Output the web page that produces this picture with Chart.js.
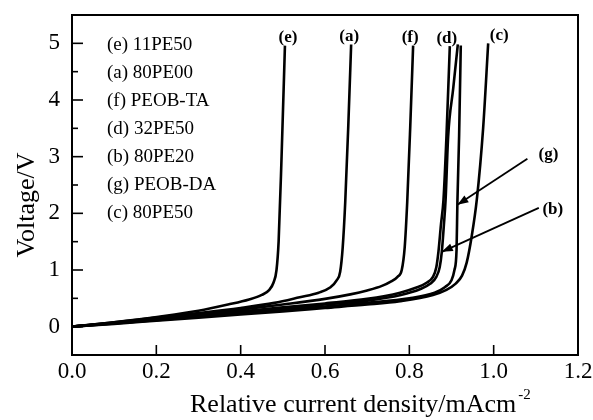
<!DOCTYPE html>
<html>
<head>
<meta charset="utf-8">
<script src="https://cdn.jsdelivr.net/npm/chart.js@4.4.0/dist/chart.umd.min.js"></script>
<style>
html, body { margin: 0; padding: 0; background: #fff; }
#wrap { width: 593px; height: 420px; }
</style>
</head>
<body>
<div id="wrap"><canvas id="voltChart"></canvas></div>
<script>
// series order as listed in the legend box
const seriesTags = ["e", "a", "f", "d", "b", "g", "c"];
const seriesNames = ["11PE50", "80PE00", "PEOB-TA", "32PE50", "80PE20", "PEOB-DA", "80PE50"];

// current density (x) / voltage (y)
const currentE = [0, 0.09, 0.21, 0.30, 0.37, 0.42, 0.45, 0.468, 0.478, 0.485, 0.49, 0.497, 0.505];
const voltageE = [0, 0.07, 0.18, 0.28, 0.39, 0.48, 0.56, 0.65, 0.78, 1.0, 1.5, 3.0, 4.96];
const currentA = [0, 0.1, 0.2, 0.3, 0.4, 0.48, 0.54, 0.585, 0.612, 0.628, 0.636, 0.642, 0.648, 0.655, 0.662];
const voltageA = [0, 0.075, 0.16, 0.24, 0.33, 0.42, 0.52, 0.6, 0.69, 0.82, 0.97, 1.4, 2.2, 3.5, 4.98];
const currentF = [0, 0.1, 0.2, 0.3, 0.4, 0.5, 0.6, 0.66, 0.70, 0.735, 0.757, 0.772, 0.782, 0.789, 0.795, 0.802, 0.809];
const voltageF = [0, 0.07, 0.14, 0.22, 0.3, 0.39, 0.49, 0.57, 0.64, 0.72, 0.8, 0.88, 1.0, 1.4, 2.2, 3.5, 4.96];
const currentD = [0, 0.1, 0.2, 0.3, 0.4, 0.5, 0.6, 0.7, 0.778, 0.817, 0.842, 0.856, 0.864, 0.869, 0.875, 0.881, 0.888, 0.896];
const voltageD = [0, 0.065, 0.13, 0.2, 0.27, 0.34, 0.41, 0.49, 0.6, 0.69, 0.78, 0.88, 1.05, 1.32, 1.8, 2.24, 3.35, 4.95];
const currentB = [0, 0.1, 0.2, 0.3, 0.4, 0.5, 0.6, 0.7, 0.78, 0.825, 0.85, 0.864, 0.872, 0.877, 0.882, 0.886, 0.892, 0.904, 0.915];
const voltageB = [0, 0.06, 0.12, 0.19, 0.255, 0.32, 0.39, 0.46, 0.56, 0.66, 0.76, 0.88, 1.05, 1.32, 1.8, 2.24, 3.35, 4.2, 4.98];
const currentG = [0, 0.1, 0.2, 0.3, 0.4, 0.5, 0.6, 0.7, 0.8, 0.86, 0.885, 0.9, 0.907, 0.912, 0.914, 0.918, 0.922];
const voltageG = [0, 0.055, 0.115, 0.175, 0.235, 0.295, 0.355, 0.42, 0.5, 0.6, 0.7, 0.82, 1.0, 1.36, 2.2, 3.35, 4.96];
const currentC = [0, 0.1, 0.2, 0.3, 0.4, 0.5, 0.6, 0.7, 0.778, 0.856, 0.888, 0.91, 0.925, 0.936, 0.948, 0.96, 0.975, 0.987];
const voltageC = [0, 0.05, 0.105, 0.16, 0.215, 0.27, 0.33, 0.39, 0.45, 0.56, 0.65, 0.76, 0.9, 1.13, 1.6, 2.24, 3.5, 5.0];

const xTicks = [0, 0.2, 0.4, 0.6, 0.8, 1.0, 1.2];
const yTicks = [0, 1, 2, 3, 4, 5];

// tags written above the top end of a curve, and tags carried by an arrow
const topTags = ["e", "a", "f", "d", "c"];
const arrowTags = ["g", "b"];
const arrowTargets = { g: [0.914, 2.15], b: [0.877, 1.32] };

const curveData = {
    e: [currentE, voltageE], a: [currentA, voltageA], f: [currentF, voltageF],
    d: [currentD, voltageD], b: [currentB, voltageB], g: [currentG, voltageG], c: [currentC, voltageC]
};

const SERIF = "'Liberation Serif', 'Times New Roman', serif";

function line(ctx, x1, y1, x2, y2) {
    ctx.beginPath();
    ctx.moveTo(x1, y1);
    ctx.lineTo(x2, y2);
    ctx.stroke();
}

function arrow(ctx, x1, y1, x2, y2) {
    line(ctx, x1, y1, x2, y2);
    const ang = Math.atan2(y2 - y1, x2 - x1);
    const len = 11, half = 4;
    ctx.beginPath();
    ctx.moveTo(x2, y2);
    ctx.lineTo(x2 - len * Math.cos(ang) + half * Math.sin(ang), y2 - len * Math.sin(ang) - half * Math.cos(ang));
    ctx.lineTo(x2 - len * Math.cos(ang) - half * Math.sin(ang), y2 - len * Math.sin(ang) + half * Math.cos(ang));
    ctx.closePath();
    ctx.fill();
}

const frameAndText = {
    id: "frameAndText",
    afterDraw(chart) {
        const { ctx, chartArea: a, scales } = chart;
        const sx = scales.x, sy = scales.y;
        ctx.save();
        ctx.strokeStyle = "#000";
        ctx.fillStyle = "#000";

        // frame
        ctx.lineWidth = 2;
        ctx.strokeRect(a.left, a.top, a.right - a.left, a.bottom - a.top);

        // inward ticks
        ctx.lineWidth = 1.6;
        sx.ticks.forEach((t) => {
            const px = sx.getPixelForValue(t.value);
            if (px <= a.left + 1 || px >= a.right - 1) return;
            line(ctx, px, a.bottom, px, a.bottom - 10);
        });
        sy.ticks.forEach((t) => {
            const py = sy.getPixelForValue(t.value);
            if (py <= a.top + 1 || py >= a.bottom - 1) return;
            const major = Math.abs(t.value - Math.round(t.value)) < 1e-6;
            line(ctx, a.left, py, a.left + (major ? 11 : 6), py);
        });

        // axis titles
        ctx.font = `26px ${SERIF}`;
        ctx.textBaseline = "alphabetic";
        ctx.textAlign = "left";
        const xt = "Relative current density/mAcm";
        ctx.fillText(xt, 190, 412);
        const w = ctx.measureText(xt).width;
        ctx.font = `15px ${SERIF}`;
        ctx.fillText("-2", 190 + w + 2, 399);

        ctx.save();
        ctx.translate(34, 205);
        ctx.rotate(-Math.PI / 2);
        ctx.font = `26px ${SERIF}`;
        ctx.textAlign = "center";
        ctx.fillText("Voltage/V", 0, 0);
        ctx.restore();

        // legend list
        ctx.font = `19px ${SERIF}`;
        ctx.textAlign = "left";
        ctx.textBaseline = "middle";
        seriesTags.forEach((tag, i) => {
            ctx.fillText(`(${tag}) ${seriesNames[i]}`, 107, 45 + i * 28);
        });

        // curve tags
        ctx.font = `bold 17px ${SERIF}`;
        ctx.textAlign = "center";
        const tagShift = { e: 3, a: -2, f: -3, d: -3, c: 11 };
        topTags.forEach((tag) => {
            const [xs, ys] = curveData[tag];
            const px = sx.getPixelForValue(xs[xs.length - 1]);
            const py = sy.getPixelForValue(ys[ys.length - 1]);
            ctx.fillText(`(${tag})`, px + tagShift[tag], py - 8);
        });

        // arrow tags
        ctx.lineWidth = 1.8;
        const tails = { g: [70, -46], b: [97, -44] };
        const labelAt = { g: [91, -50], b: [111, -42] };
        arrowTags.forEach((tag) => {
            const [vx, vy] = arrowTargets[tag];
            const tx = sx.getPixelForValue(vx), ty = sy.getPixelForValue(vy);
            arrow(ctx, tx + tails[tag][0], ty + tails[tag][1], tx, ty);
            ctx.fillText(`(${tag})`, tx + labelAt[tag][0], ty + labelAt[tag][1]);
        });
        ctx.restore();
    }
};

const datasets = seriesTags.map((tag, i) => {
    const [xs, ys] = curveData[tag];
    return {
        label: `(${tag}) ${seriesNames[i]}`,
        data: xs.map((x, k) => ({ x: x, y: ys[k] })),
        borderColor: "#000",
        borderWidth: 2.6,
        pointRadius: 0,
        fill: false,
        showLine: true,
        cubicInterpolationMode: "monotone"
    };
});

function noScalePadding(scale) {
    scale.paddingTop = 0;
    scale.paddingBottom = 0;
    scale.paddingLeft = 0;
    scale.paddingRight = 0;
}

new Chart(document.getElementById("voltChart"), {
    type: "scatter",
    data: { datasets: datasets },
    plugins: [frameAndText],
    options: {
        responsive: true,
        maintainAspectRatio: false,
        animation: false,
        layout: { padding: { top: 15, right: 15, left: 0, bottom: 0 } },
        plugins: { legend: { display: false }, tooltip: { enabled: false } },
        scales: {
            x: {
                type: "linear",
                min: xTicks[0],
                max: xTicks[xTicks.length - 1],
                afterBuildTicks(scale) { scale.ticks = xTicks.map((v) => ({ value: v })); },
                afterFit(scale) { scale.height = 65; noScalePadding(scale); },
                grid: { display: false, drawTicks: false },
                border: { display: false },
                ticks: {
                    color: "#000",
                    padding: 3,
                    maxRotation: 0,
                    autoSkip: false,
                    font: { family: SERIF, size: 23 },
                    callback: (v) => Number(v).toFixed(1)
                }
            },
            y: {
                type: "linear",
                min: -0.5,
                max: 5.5,
                afterBuildTicks(scale) {
                    const t = [{ value: -0.5 }];
                    yTicks.forEach((v) => { t.push({ value: v }); t.push({ value: v + 0.5 }); });
                    scale.ticks = t;
                },
                afterFit(scale) { scale.width = 72; noScalePadding(scale); },
                grid: { display: false, drawTicks: false },
                border: { display: false },
                ticks: {
                    color: "#000",
                    padding: 12,
                    autoSkip: false,
                    font: { family: SERIF, size: 23 },
                    callback: (v) => (yTicks.includes(v) ? String(v) : "")
                }
            }
        }
    }
});
</script>
</body>
</html>
